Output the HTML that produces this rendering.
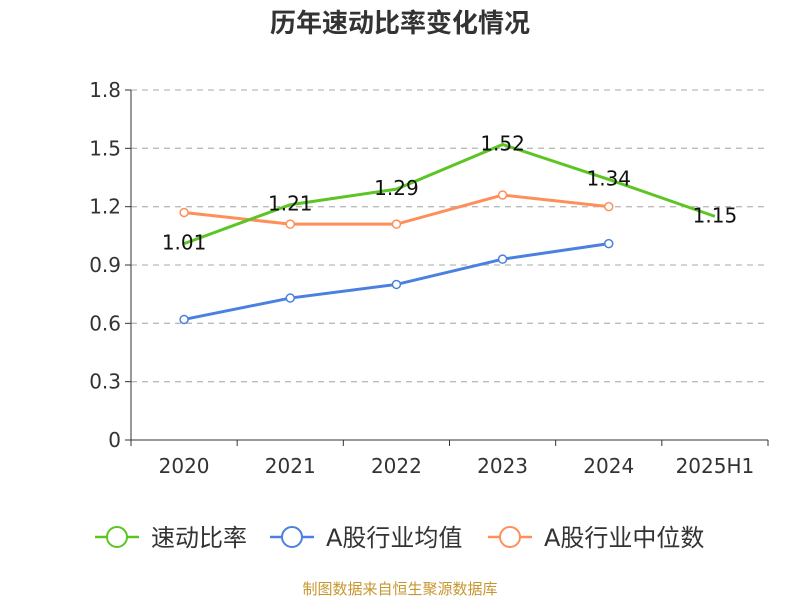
<!DOCTYPE html>
<html><head><meta charset="utf-8"><style>
body{margin:0;background:#fff;}
svg{display:block;font-family:"DejaVu Sans","Noto Sans CJK SC",sans-serif;}
</style></head><body>
<svg id="chart" width="800" height="600">
<text x="400" y="32" text-anchor="middle" font-size="26" font-weight="bold" fill="#333" font-family="Noto Sans CJK SC, sans-serif">历年速动比率变化情况</text>
<g id="grid"></g><g id="axes"></g><g id="series"></g><g id="legend"></g>
<text x="400" y="594" text-anchor="middle" font-size="15" fill="#c8962e" font-family="Noto Sans CJK SC, sans-serif">制图数据来自恒生聚源数据库</text>
</svg>
<script>
const categories=["2020","2021","2022","2023","2024","2025H1"];
const yTicks=[0,0.3,0.6,0.9,1.2,1.5,1.8];
const quickRatio=[1.01,1.21,1.29,1.52,1.34,1.15];
const industryAvg=[0.62,0.73,0.80,0.93,1.01];
const industryMedian=[1.17,1.11,1.11,1.26,1.20];
const seriesNames=["速动比率","A股行业均值","A股行业中位数"];
const colors=["#5cc524","#4a80e0","#ff8f5a"];
const NS="http://www.w3.org/2000/svg";
const x0=131,x1=768,y0=440,y1=90;
const bw=(x1-x0)/categories.length;
const X=i=>x0+bw*(i+0.5);
const Y=v=>y0-(v/1.8)*(y0-y1);
function mk(tag,attrs,parent,text){const e=document.createElementNS(NS,tag);for(const k in attrs)e.setAttribute(k,attrs[k]);if(text!==undefined)e.textContent=text;parent.appendChild(e);return e;}
const grid=document.getElementById('grid'),axes=document.getElementById('axes'),ser=document.getElementById('series'),leg=document.getElementById('legend');
yTicks.forEach(t=>{
 if(t>0){const l=mk('line',{x1:x0,x2:x1,y1:Y(t),y2:Y(t),stroke:'#bbb','stroke-dasharray':'6,5','stroke-width':1.3},grid);
 
 }
 mk('line',{x1:x0-6,x2:x0,y1:Y(t),y2:Y(t),stroke:'#333'},axes);
 const tx=mk('text',{x:x0-10,y:Y(t)+7,'text-anchor':'end','font-size':20,fill:'#333'},axes,String(t));
 
 
});
mk('line',{x1:x0,x2:x0,y1:y1,y2:y0,stroke:'#333'},axes);
mk('line',{x1:x0,x2:x1,y1:y0,y2:y0,stroke:'#333'},axes);
for(let i=0;i<=categories.length;i++)mk('line',{x1:x0+bw*i,x2:x0+bw*i,y1:y0,y2:y0+6,stroke:'#333'},axes);
categories.forEach((c,i)=>{const t=mk('text',{x:X(i),y:y0+33,'text-anchor':'middle','font-size':20,fill:'#333'},axes,c);
 
 });
function draw(vals,color,name,markers,labels){
 const g=mk('g',{},ser);
 
 
 mk('polyline',{points:vals.map((v,i)=>X(i)+','+Y(v)).join(' '),fill:'none',stroke:color,'stroke-width':3},g);
 vals.forEach((v,i)=>{
  if(markers){const c=mk('circle',{cx:X(i),cy:Y(v),r:4,fill:'#fff',stroke:color,'stroke-width':1.5},g);
   
   }
  if(labels){const t=mk('text',{x:X(i),y:Y(v)+6,'text-anchor':'middle','font-size':20,fill:'#111'},g,v.toFixed(2));
   
   }
 });
}
draw(industryAvg,colors[1],'industry-avg-series',true,false);
draw(industryMedian,colors[2],'industry-median-series',true,false);
draw(quickRatio,colors[0],'quick-ratio-series',false,true);
const lx=[95,270,488];
seriesNames.forEach((n,i)=>{
 const g=mk('g',{},leg);
 
 
 mk('line',{x1:lx[i],x2:lx[i]+44,y1:537,y2:537,stroke:colors[i],'stroke-width':2.5},g);
 mk('circle',{cx:lx[i]+22,cy:537,r:10,fill:'#fff',stroke:colors[i],'stroke-width':2},g);
 mk('text',{x:lx[i]+56,y:546,'font-size':24,fill:'#333'},g,n);
});
</script>
</body></html>
